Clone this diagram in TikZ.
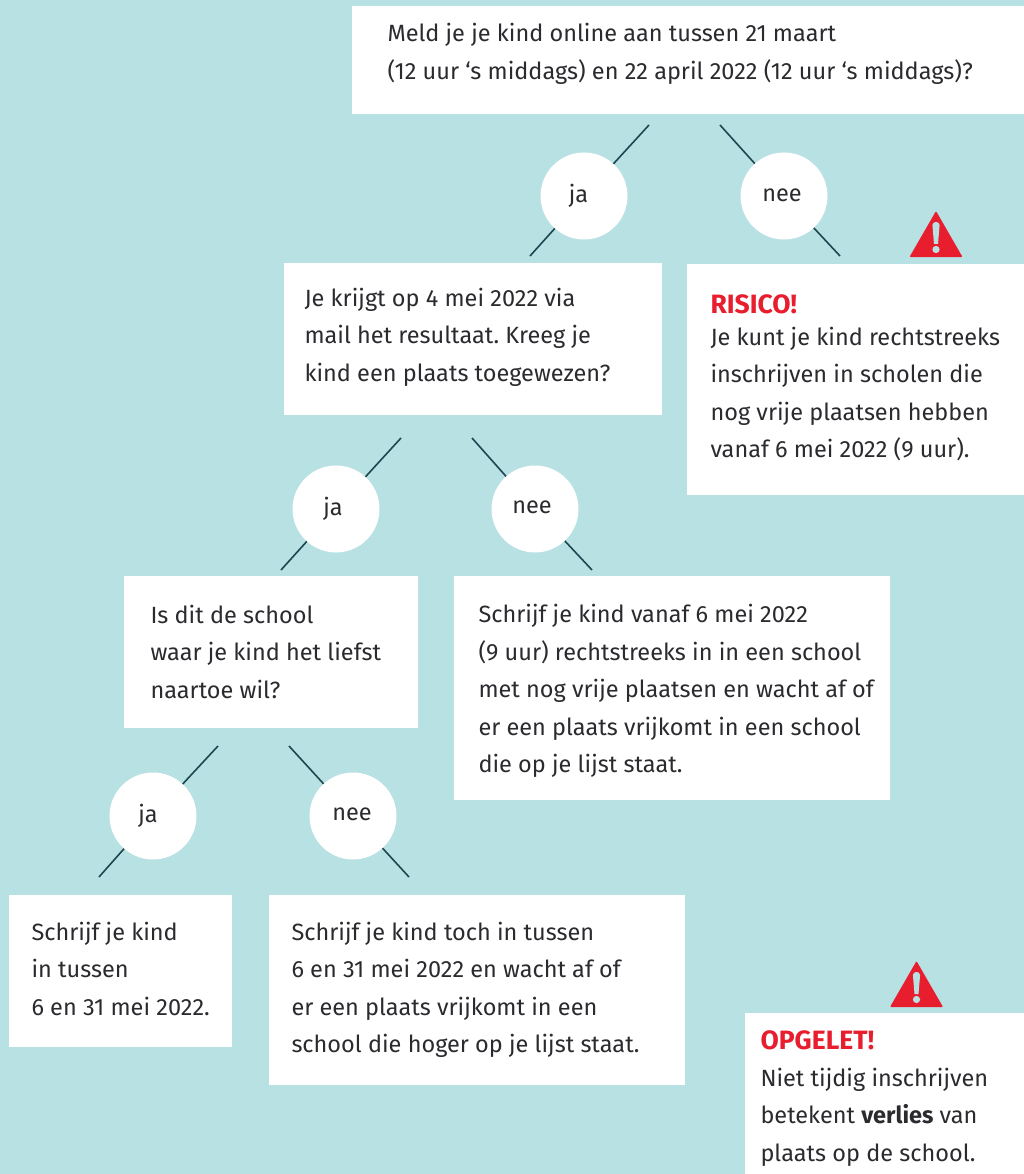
\documentclass[tikz,border=0pt]{standalone}
\usepackage{fontspec}
\setmainfont{Fira Sans}
\definecolor{bgc}{HTML}{B8E1E3}
\definecolor{inkc}{HTML}{2B2A2E}
\definecolor{redc}{HTML}{E81D2D}
\definecolor{linec}{HTML}{1F4650}
\newcommand{\bodyfont}{\fontsize{23.5}{37.5}\selectfont\frenchspacing}
\newcommand{\headfont}{\fontsize{26.5}{37.5}\selectfont\bfseries\color{redc}}
\newcommand{\warnsign}[2]{%
  \fill[redc,rounded corners=1pt] (#1-26.5,#2) -- (#1,#2-46) -- (#1+26.5,#2) -- cycle;
  \fill[bgc] (#1-3.6,#2-32) .. controls (#1-3.6,#2-36) and (#1+3.6,#2-36) .. (#1+3.6,#2-32) -- (#1+2,#2-13) -- (#1-2,#2-13) -- cycle;
  \fill[bgc] (#1,#2-7.5) circle (3.6);
}
\tikzset{
  x=1pt,y=-1pt,
  boxn/.style={fill=white,draw=none,inner sep=0pt,anchor=north west},
  txtn/.style={inner sep=0pt,outer sep=0pt,anchor=north west,align=left,text=inkc,font=\bodyfont},
  circn/.style={circle,fill=white,draw=none,inner sep=0pt,minimum size=87pt,text=inkc,font=\bodyfont},
  conn/.style={draw=linec,line width=1.6pt},
}
\begin{document}
\begin{tikzpicture}
\useasboundingbox (0,0) rectangle (1024,1174);
\fill[bgc] (0,0) rectangle (1024,1174);
% boxes
\node[boxn,minimum width=672pt,minimum height=108pt] (b1) at (352,6) {};
\node[boxn,minimum width=378pt,minimum height=152pt] (b2) at (284,263) {};
\node[boxn,minimum width=337pt,minimum height=231pt] (b3) at (687,264) {};
\node[boxn,minimum width=294pt,minimum height=152pt] (b4) at (124,576) {};
\node[boxn,minimum width=436pt,minimum height=224pt] (b5) at (454,576) {};
\node[boxn,minimum width=223pt,minimum height=152pt] (b6) at (9,895) {};
\node[boxn,minimum width=416pt,minimum height=190pt] (b7) at (269,895) {};
\node[boxn,minimum width=279pt,minimum height=161pt] (b8) at (745,1013) {};
% texts (north = baseline - 26.25)
\node[txtn] (t1) at (387.5,15.75) {\strut Meld je je kind online aan tussen 21 maart\\(12 uur ‘s middags) en 22 april 2022 (12 uur ‘s middags)?};
\node[txtn] (t2) at (304.5,279.75) {\strut Je krijgt op 4 mei 2022 via\\mail het resultaat. Kreeg je\\kind een plaats toegewezen?};
\node[txtn] (t3) at (710.5,286.75) {\strut{\headfont RISICO!}\\[-5.5pt]Je kunt je kind rechtstreeks\\inschrijven in scholen die\\nog vrije plaatsen hebben\\vanaf 6 mei 2022 (9 uur).};
\node[txtn] (t4) at (150.5,596.75) {\strut Is dit de school\\waar je kind het liefst\\naartoe wil?};
\node[txtn] (t5) at (478.5,596.5) {\strut Schrijf je kind vanaf 6 mei 2022\\(9 uur) rechtstreeks in in een school\\met nog vrije plaatsen en wacht af of\\er een plaats vrijkomt in een school\\die op je lijst staat.};
\node[txtn] (t6) at (31.5,913.75) {\strut Schrijf je kind\\in tussen\\6 en 31 mei 2022.};
\node[txtn] (t7) at (291.5,913.75) {\strut Schrijf je kind toch in tussen\\6 en 31 mei 2022 en wacht af of\\er een plaats vrijkomt in een\\school die hoger op je lijst staat.};
\node[txtn] (t8) at (760.5,1022.75) {\strut{\headfont OPGELET!}\\[-0.5pt]Niet tijdig inschrijven\\betekent \textbf{verlies} van\\plaats op de school.};
% circles
\node[circn] (j1) at (584,196) {\kern-11pt\vphantom{jane}ja};
\node[circn] (n1) at (784,196) {\kern-4pt\raisebox{2pt}{nee}};
\node[circn] (j2) at (336,509) {\kern-6pt\raisebox{1.5pt}{ja}};
\node[circn] (n2) at (535,509) {\kern-6pt\raisebox{3pt}{nee}};
\node[circn] (j3) at (153,816) {\kern-10pt\raisebox{1.5pt}{ja}};
\node[circn] (n3) at (353,816) {\kern-2pt\raisebox{3pt}{nee}};
% free ends
\coordinate (a1) at (649,125); \coordinate (a2) at (530,256);
\coordinate (a3) at (720,125); \coordinate (a4) at (840,256);
\coordinate (a5) at (401,438); \coordinate (a6) at (281,570);
\coordinate (a7) at (472,438); \coordinate (a8) at (592,570);
\coordinate (a9) at (218,746); \coordinate (a10) at (99,877);
\coordinate (a11) at (289,746); \coordinate (a12) at (409,877);
\draw[conn] (a1) -- (j1); \draw[conn] (j1) -- (a2);
\draw[conn] (a3) -- (n1); \draw[conn] (n1) -- (a4);
\draw[conn] (a5) -- (j2); \draw[conn] (j2) -- (a6);
\draw[conn] (a7) -- (n2); \draw[conn] (n2) -- (a8);
\draw[conn] (a9) -- (j3); \draw[conn] (j3) -- (a10);
\draw[conn] (a11) -- (n3); \draw[conn] (n3) -- (a12);
% warning signs
\warnsign{936}{257}
\warnsign{916.5}{1007}
\end{tikzpicture}
\end{document}
